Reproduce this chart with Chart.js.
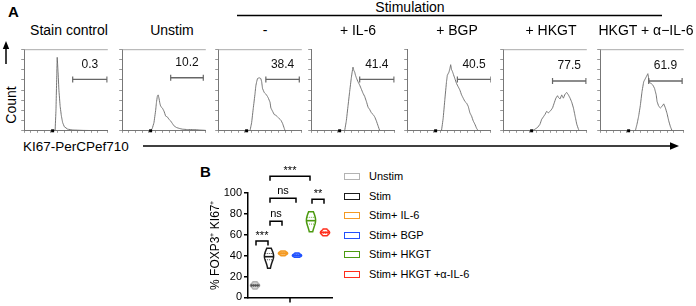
<!DOCTYPE html>
<html>
<head>
<meta charset="utf-8">
<script src="https://cdn.jsdelivr.net/npm/chart.js@4.4.1/dist/chart.umd.min.js"></script>
<style>
	html, body { margin: 0; padding: 0; background: #fff; }
	#app { position: relative; width: 696px; height: 306px; overflow: hidden; font-family: 'Liberation Sans', Arial, sans-serif; color: #000; }
	#app canvas { position: absolute; }
	.t { position: absolute; white-space: nowrap; line-height: 16px; }
	.c { text-align: center; width: 160px; }
	.lg-box { position: absolute; width: 14px; height: 5px; border: 1.5px solid #000; background: #fff; }
	#deco { position: absolute; left: 0; top: 0; }
</style>
</head>
<body>
<div id="app">
	<svg id="deco" width="696" height="306">
		<line x1="6" y1="64" x2="6" y2="47" stroke="#000" stroke-width="1.5"/>
		<polygon points="6,41 2.8,49 9.2,49" fill="#000"/>
		<line x1="237" y1="15.5" x2="662" y2="15.5" stroke="#000" stroke-width="1.5"/>
		<line x1="143" y1="146" x2="671" y2="146" stroke="#000" stroke-width="1.6"/>
		<polygon points="679,146 670,142.3 670,149.7" fill="#000"/>
	</svg>
	<div class="t" style="left:8px;top:4px;font-weight:bold;font-size:15px">A</div>
	<div class="t" style="left:200px;top:164px;font-weight:bold;font-size:15px">B</div>
	<div class="t c" style="left:330px;top:-1px;font-size:14px">Stimulation</div>
	<div class="t" style="left:-15px;top:97px;font-size:14px;transform:rotate(-90deg);width:52px;text-align:center">Count</div>
	<div class="t" style="left:23px;top:139px;font-size:13.5px">KI67-PerCPef710</div>
</div>
<script>
;(function () {
	'use strict';

	// Panel A: gated KI67 histograms (x = % of axis width, y = % of max count)
	var panelTitles = ['Stain control', 'Unstim', '-', '+ IL-6', '+ BGP', '+ HKGT', 'HKGT + \u03b1\u2212IL-6'];
	var gateText  = ['0.3', '10.2', '38.4', '41.4', '40.5', '77.5', '61.9'];
	var gateStart = [58, 58, 57, 58, 60, 59, 58];
	var gateEnd   = [99, 97, 97, 99, 100, 99, 98];
	var gateY     = [63, 65, 63, 63, 63, 61, 61];

	var stainX = [35, 37, 38, 39, 39.5, 40.5, 41.5, 43, 44.5, 46, 48, 52, 58, 70, 100];
	var stainY = [0, 1, 25, 70, 90, 72, 50, 30, 18, 10, 5, 2, 1, 0.5, 0];
	var unstimX = [34, 36, 38, 40, 41, 42, 43, 44, 45, 46, 48, 50, 52, 54, 56, 58, 60, 62, 65, 68, 72, 78, 85, 92, 100];
	var unstimY = [0, 3, 10, 25, 35, 42, 44, 40, 34, 30, 28, 24, 18, 17, 14, 12, 9, 6, 4, 3, 2, 1.5, 1.5, 1, 0.5];
	var stimX = [38, 40, 42, 44, 45, 46, 47, 49, 51, 52, 53, 55, 57, 59, 60, 62, 63, 65, 67, 69, 71, 73, 75, 77, 79, 80];
	var stimY = [0, 10, 28, 45, 55, 60, 64, 65, 64, 60, 52, 47, 45, 42, 40, 35, 28, 24, 20, 19, 17, 15, 13, 9, 3, 0];
	var il6X = [40, 42, 44, 46, 48, 49, 50, 51, 52, 53, 54, 56, 58, 60, 62, 64, 66, 68, 70, 72, 74, 76, 78, 80, 82];
	var il6Y = [0, 12, 30, 48, 65, 72, 78, 74, 72, 68, 65, 60, 56, 51, 46, 42, 36, 29, 26, 22, 20, 17, 12, 6, 0];
	var bgpX = [41, 43, 45, 47, 48, 50, 51, 52, 53, 54, 55, 57, 59, 61, 63, 65, 67, 69, 71, 73, 75, 77, 79, 81, 83, 85];
	var bgpY = [0, 15, 38, 60, 68, 72, 76, 81, 75, 73, 70, 64, 58, 54, 50, 44, 40, 36, 34, 30, 22, 18, 12, 8, 3, 0];
	var hkgtX = [35, 38, 41, 44, 46, 48, 50, 52, 54, 55, 57, 59, 61, 63, 65, 66, 68, 70, 72, 74, 76, 78, 80, 82, 84, 86, 88, 90, 91];
	var hkgtY = [0, 2, 4, 8, 14, 17, 20, 24, 22, 23, 25, 28, 34, 40, 43, 41, 39, 44, 40, 45, 47, 44, 40, 35, 28, 18, 8, 2, 0];
	var antiX = [42, 44, 46, 48, 50, 52, 53, 55, 57, 58, 59, 61, 63, 65, 67, 68, 70, 72, 74, 76, 78, 80, 82, 84, 86];
	var antiY = [0, 8, 18, 31, 48, 60, 62, 66, 70, 64, 59, 58, 56, 52, 44, 36, 30, 28, 30, 33, 28, 21, 12, 5, 0];
	var zeroMark = 34;

	var histX = [stainX, unstimX, stimX, il6X, bgpX, hkgtX, antiX];
	var histY = [stainY, unstimY, stimY, il6Y, bgpY, hkgtY, antiY];

	// Panel B: % FOXP3+ KI67+ per replicate
	var groups = ['Unstim', 'Stim', 'Stim+ IL-6', 'Stim+ BGP', 'Stim+ HKGT', 'Stim+ HKGT +\u03b1-IL-6'];
	var unstimVals = [8, 10, 11, 11.5, 12, 13, 15];
	var stimVals   = [28, 33, 36, 38, 39, 40, 42, 44, 47];
	var il6Vals    = [40, 41.5, 42, 42.5, 43, 44.5];
	var bgpVals    = [38.5, 39.5, 40, 40.5, 41, 42.5];
	var hkgtVals   = [63, 68, 71, 73, 74, 76, 79, 82];
	var antiVals   = [59, 61, 62, 62.5, 63, 65.5];
	var groupVals  = [unstimVals, stimVals, il6Vals, bgpVals, hkgtVals, antiVals];
	var yTicks = [0, 20, 40, 60, 80, 100];
	// [group from, group to, height, label]
	var brackets = [[0, 1, 54, '***'], [1, 2, 73, 'ns'], [1, 3, 95, 'ns'], [1, 4, 116, '***'], [4, 5, 94, '**']];

	// layout / style
	var panelLeft = [22, 120, 216, 309, 405, 501, 598];
	var titleCenter = [69, 172, 265, 358, 457, 551, 646];
	var panelTop = 44, panelW = 91, panelH = 89;
	var topBorder = [true, true, true, false, false, true, true];
	var groupColors = ['#b3b3b3', '#1a1a1a', '#f49a22', '#2052ff', '#4c9a10', '#ff2e1c'];
	var groupFills  = ['#d4d4d4', '#fff', '#f8c37c', '#8ea6ff', '#fff', '#fff'];
	var FONT = "'Liberation Sans', Arial, sans-serif";

	Chart.defaults.font.family = FONT;
	Chart.defaults.color = '#000';

	var app = document.getElementById('app');

	function addDiv(cls, style, text) {
		var d = document.createElement('div');
		d.className = cls;
		d.setAttribute('style', style);
		d.textContent = text;
		app.appendChild(d);
		return d;
	}

	function addCanvas(left, top, w, h) {
		var c = document.createElement('canvas');
		c.width = w;
		c.height = h;
		c.style.left = left + 'px';
		c.style.top = top + 'px';
		app.appendChild(c);
		return c;
	}

	// gate percentage, frame top line and the black zero marker
	var gateLabel = {
		id: 'gateLabel',
		afterDatasetsDraw: function (chart, args, opts) {
			var ctx = chart.ctx, xs = chart.scales.x, ys = chart.scales.y,
				g = chart.data.datasets[1].data, area = chart.chartArea;
			ctx.save();
			ctx.font = '12px ' + FONT;
			ctx.fillStyle = '#111';
			ctx.textAlign = 'center';
			ctx.textBaseline = 'bottom';
			ctx.fillText(opts.text, (xs.getPixelForValue(g[0].x) + xs.getPixelForValue(g[1].x)) / 2, ys.getPixelForValue(g[0].y) - 9);
			if (opts.top) {
				ctx.strokeStyle = '#aaa';
				ctx.lineWidth = 1;
				ctx.beginPath();
				ctx.moveTo(area.left, area.top + 0.5);
				ctx.lineTo(area.right, area.top + 0.5);
				ctx.stroke();
			}
			ctx.fillStyle = '#000';
			ctx.fillRect(xs.getPixelForValue(opts.zero) - 1.5, area.bottom - 1.5, 3, 3);
			ctx.restore();
		}
	};

	function makeHist(i) {
		var pts = histX[i].map(function (x, k) { return {x: x, y: histY[i][k]}; });
		var canvas = addCanvas(panelLeft[i] - 3, panelTop, panelW + 3, panelH + 3);

		addDiv('t c', 'left:' + (titleCenter[i] - 80) + 'px;top:22px;font-size:14px', panelTitles[i]);

		new Chart(canvas, {
			type: 'line',
			data: {
				datasets: [{
					data: pts, borderColor: '#666', borderWidth: 0.9, pointRadius: 0, tension: 0.01
				}, {
					data: [{x: gateStart[i], y: gateY[i]}, {x: gateEnd[i], y: gateY[i]}],
					borderColor: '#666', borderWidth: 1.3, pointStyle: 'line', rotation: 90,
					pointRadius: 3, pointBorderWidth: 1.2, pointBorderColor: '#666'
				}]
			},
			options: {
				responsive: false, animation: false, events: [],
				layout: {padding: 0},
				plugins: {
					legend: {display: false}, tooltip: {enabled: false},
					gateLabel: {text: gateText[i], top: topBorder[i], zero: zeroMark}
				},
				scales: {
					x: {
						type: 'linear', min: 0, max: 100,
						ticks: {display: false, stepSize: 8},
						grid: {drawOnChartArea: false, tickLength: 2, color: '#999'},
						border: {color: '#777'}
					},
					y: {
						min: 0, max: 100,
						ticks: {display: false, stepSize: 12.5},
						grid: {drawOnChartArea: false, tickLength: 3, color: '#999'},
						border: {color: '#777'}
					}
				}
			},
			plugins: [gateLabel]
		});
	}

	for (var i = 0; i < histX.length; i++) {
		makeHist(i);
	}

	// violin outline from a gaussian kernel density, cut at the data range
	function density(vals, y, h) {
		var s = 0;
		vals.forEach(function (v) {
			var u = (y - v) / h;
			s += Math.exp(-0.5 * u * u);
		});
		return s;
	}

	function stats(vals) {
		var s = vals.slice().sort(function (a, b) { return a - b; }),
			q = function (p) {
				var pos = (s.length - 1) * p, lo = Math.floor(pos), hi = Math.ceil(pos);
				return s[lo] + (s[hi] - s[lo]) * (pos - lo);
			},
			mean = s.reduce(function (a, b) { return a + b; }, 0) / s.length,
			sd = Math.sqrt(s.reduce(function (a, b) { return a + (b - mean) * (b - mean); }, 0) / (s.length - 1));
		return {min: s[0], max: s[s.length - 1], q1: q(0.25), med: q(0.5), q3: q(0.75), sd: sd};
	}

	var violins = {
		id: 'violins',
		afterDatasetsDraw: function (chart) {
			var ctx = chart.ctx, xs = chart.scales.x, ys = chart.scales.y, halfW = 4.6;
			ctx.save();
			groupVals.forEach(function (vals, gi) {
				var st = stats(vals), h = Math.max(1.06 * st.sd * Math.pow(vals.length, -0.2), 1),
					cx = xs.getPixelForValue(gi), steps = 30, k, y, dMax = 0, side = [];
				for (k = 0; k <= steps; k++) {
					y = st.min + (st.max - st.min) * k / steps;
					side.push([y, density(vals, y, h)]);
					dMax = Math.max(dMax, side[k][1]);
				}
				var w = function (d) { return d / dMax * halfW; };
				ctx.beginPath();
				side.forEach(function (p, k) {
					var px = cx + w(p[1]), py = ys.getPixelForValue(p[0]);
					if (k === 0) { ctx.moveTo(px, py); } else { ctx.lineTo(px, py); }
				});
				for (k = side.length - 1; k >= 0; k--) {
					ctx.lineTo(cx - w(side[k][1]), ys.getPixelForValue(side[k][0]));
				}
				ctx.closePath();
				ctx.fillStyle = groupFills[gi];
				ctx.fill();
				ctx.strokeStyle = groupColors[gi];
				ctx.lineWidth = 1.5;
				ctx.stroke();

				[[st.med, 1.6, []], [st.q1, 0.8, [1, 1]], [st.q3, 0.8, [1, 1]]].forEach(function (l) {
					var hw = w(density(vals, l[0], h)), py = ys.getPixelForValue(l[0]);
					ctx.setLineDash(l[2]);
					ctx.lineWidth = l[1];
					ctx.strokeStyle = gi === 0 ? '#555' : groupColors[gi];
					ctx.beginPath();
					ctx.moveTo(cx - hw, py);
					ctx.lineTo(cx + hw, py);
					ctx.stroke();
				});
				ctx.setLineDash([]);
			});

			// significance brackets
			ctx.strokeStyle = '#000';
			ctx.fillStyle = '#000';
			ctx.lineWidth = 1.5;
			ctx.font = '11px ' + FONT;
			ctx.textAlign = 'center';
			ctx.textBaseline = 'bottom';
			brackets.forEach(function (b) {
				var x1 = xs.getPixelForValue(b[0]) + 1, x2 = xs.getPixelForValue(b[1]) - 1,
					py = ys.getPixelForValue(b[2]);
				ctx.beginPath();
				ctx.moveTo(x1, py + 4.5);
				ctx.lineTo(x1, py);
				ctx.lineTo(x2, py);
				ctx.lineTo(x2, py + 4.5);
				ctx.stroke();
				ctx.fillText(b[3], (x1 + x2) / 2, py - (b[3] === 'ns' ? 2 : 0));
			});

			// single category tick in the middle of the x axis
			var mid = (xs.left + xs.right) / 2;
			ctx.beginPath();
			ctx.moveTo(mid, xs.top);
			ctx.lineTo(mid, xs.top + 5);
			ctx.stroke();
			ctx.restore();
		}
	};

	var canvasB = addCanvas(200, 160, 140, 146);
	new Chart(canvasB, {
		type: 'line',
		data: {
			labels: groups,
			datasets: [{
				data: groupVals.map(function (v) { return stats(v).med; }),
				showLine: false, pointRadius: 0
			}]
		},
		options: {
			responsive: false, animation: false, events: [],
			layout: {padding: {top: 33, right: 8, left: 0, bottom: 0}},
			plugins: {legend: {display: false}, tooltip: {enabled: false}},
			scales: {
				x: {
					type: 'category', offset: true,
					ticks: {display: false},
					grid: {display: false},
					border: {display: true, color: '#000', width: 1.5},
					afterFit: function (axis) { axis.height = 8; }
				},
				y: {
					min: 0, max: 100,
					afterBuildTicks: function (axis) {
						axis.ticks = yTicks.map(function (v) { return {value: v}; });
					},
					ticks: {font: {size: 11}, color: '#000', padding: 2},
					grid: {drawOnChartArea: false, tickLength: 4, color: '#000', lineWidth: 1.5},
					border: {color: '#000', width: 1.5},
					title: {display: true, text: '% FOXP3\u207a KI67\u207a', font: {size: 12}, color: '#000', padding: {top: 8, bottom: 0}},
					afterFit: function (axis) { axis.width = 48; }
				}
			}
		},
		plugins: [violins]
	});

	// legend for panel B
	groups.forEach(function (g, k) {
		var top = 173 + k * 19.5;
		addDiv('lg-box', 'left:344px;top:' + top + 'px;border-color:' + groupColors[k], '');
		addDiv('t', 'left:369px;top:' + (top - 5) + 'px;font-size:11px', g);
	});
})();
</script>
</body>
</html>
